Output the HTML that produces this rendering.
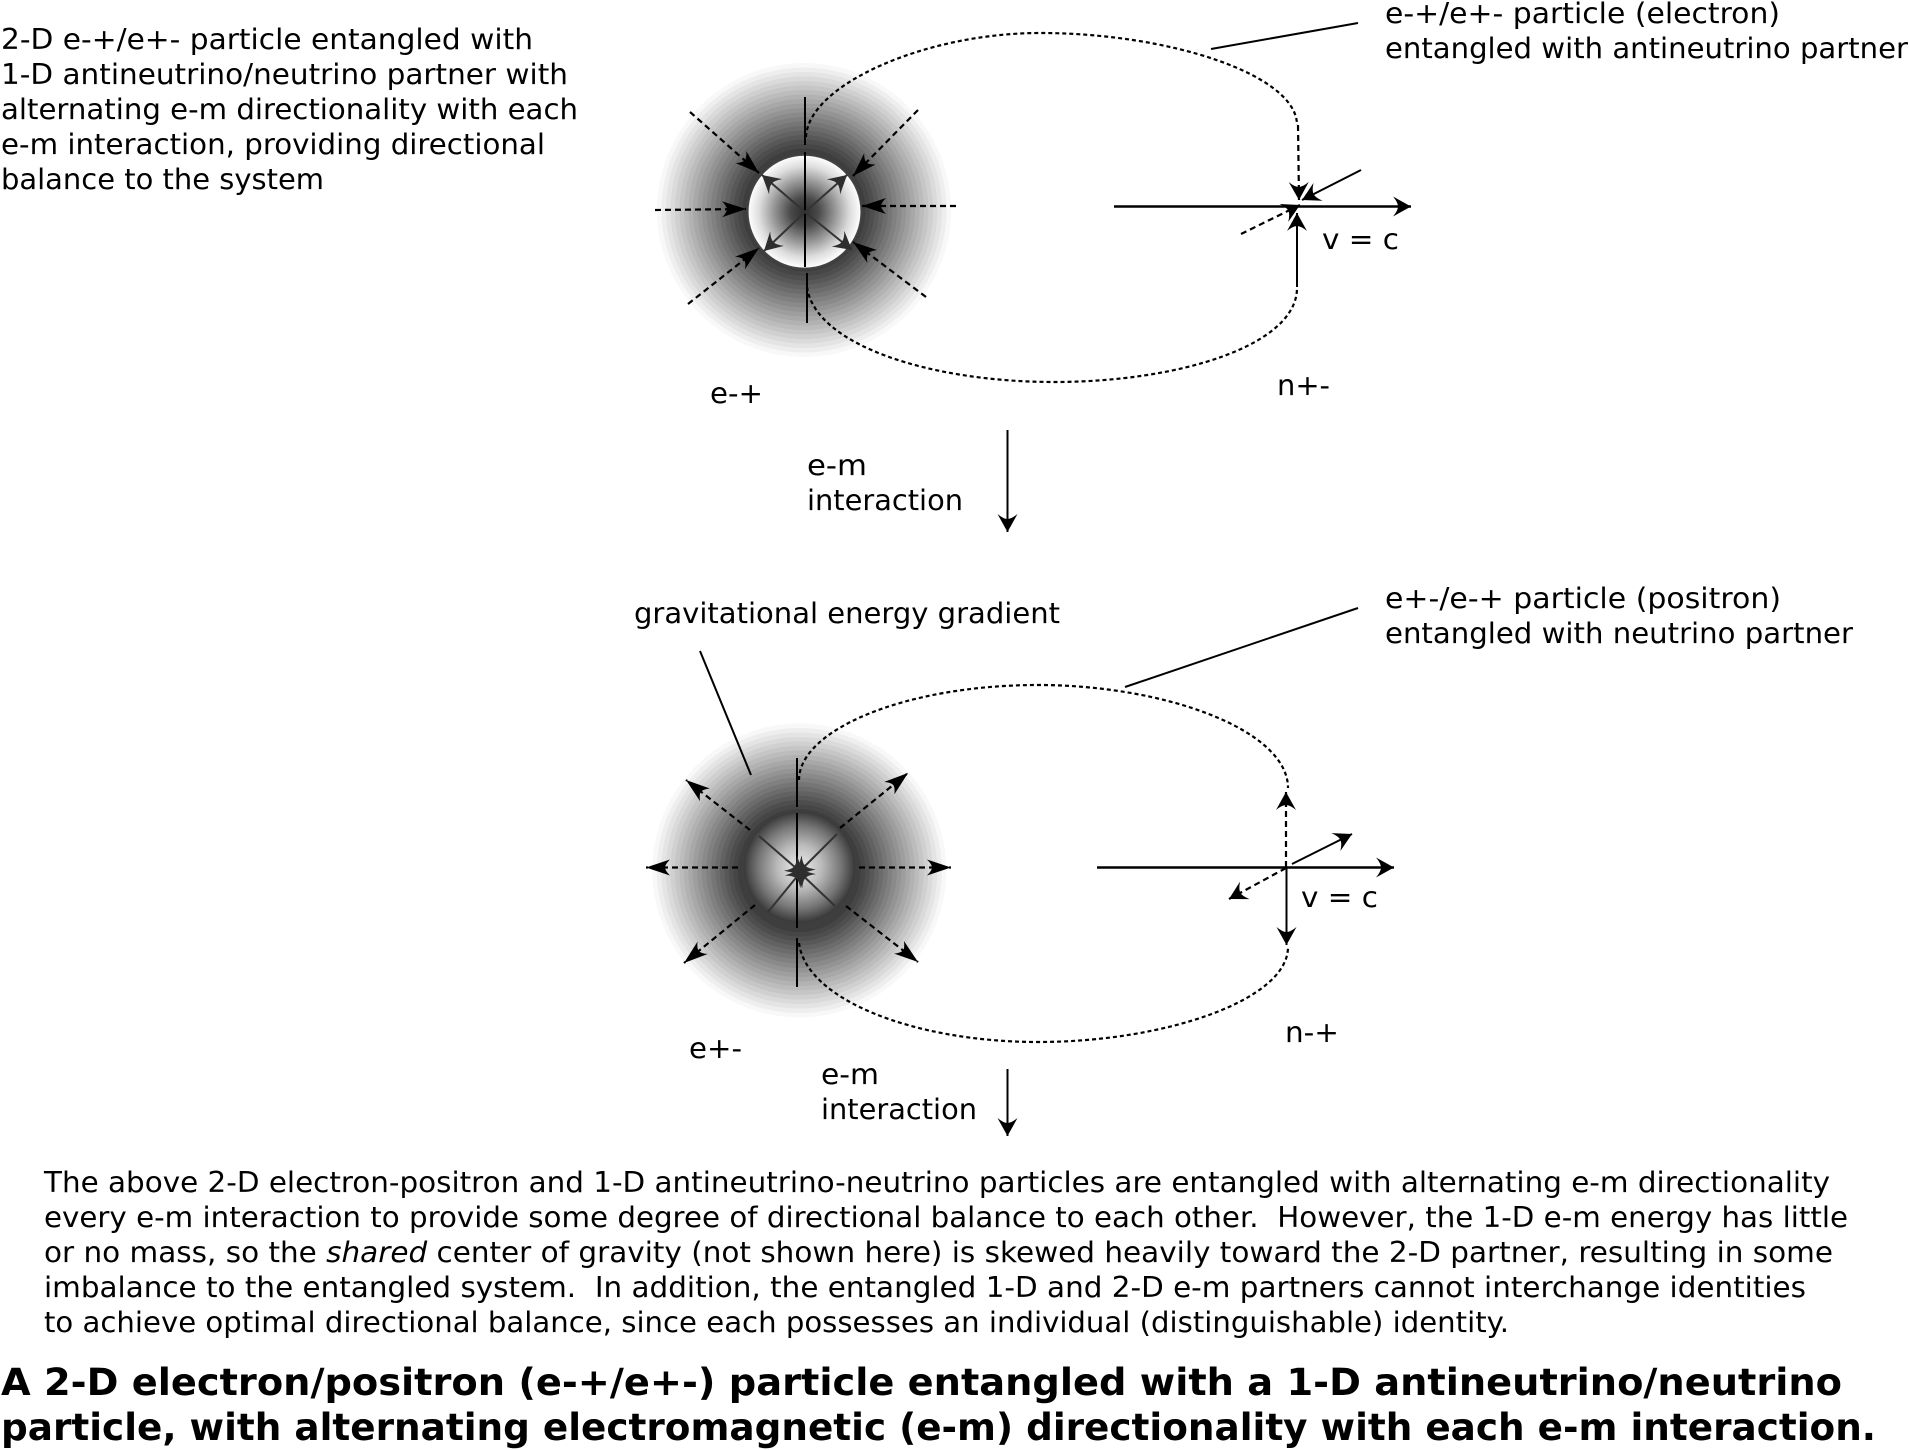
<!DOCTYPE html>
<html>
<head>
<meta charset="utf-8">
<style>
html,body{margin:0;padding:0;background:#fff}
svg{display:block}
text{font-family:"DejaVu Sans","Liberation Sans",sans-serif;font-size:28.5px;fill:#000}
.b{font-weight:bold;font-size:37px}
.s{stroke:#000;stroke-width:2;fill:none}
.h{stroke:#000;stroke-width:2.5;fill:none}
.d{stroke:#000;stroke-width:2.2;stroke-dasharray:6 4;fill:none}
.c{stroke:#000;stroke-width:2.2;stroke-dasharray:4 3;fill:none}
.g{stroke:#333;stroke-width:2;fill:none}
</style>
</head>
<body>
<svg width="1909" height="1450" viewBox="0 0 1909 1450" xmlns="http://www.w3.org/2000/svg">
<defs>
<marker id="a" viewBox="-20 -12 22 24" refX="0" refY="0" markerWidth="22" markerHeight="24" markerUnits="userSpaceOnUse" orient="auto">
<path d="M0,0 L-18,-10 Q-13,-4 -13,0 Q-13,4 -18,10Z" fill="#000"/>
</marker>
<marker id="l" viewBox="-26 -10 28 20" refX="0" refY="0" markerWidth="28" markerHeight="20" markerUnits="userSpaceOnUse" orient="auto">
<path d="M0,0 L-24,-8 Q-19,-3 -19,0 Q-19,3 -24,8Z" fill="#000"/>
</marker>
<marker id="m" viewBox="-20 -12 22 24" refX="0" refY="0" markerWidth="22" markerHeight="24" markerUnits="userSpaceOnUse" orient="auto">
<path d="M0,0 L-18,-10 Q-13,-4 -13,0 Q-13,4 -18,10Z" fill="#2e2e2e"/>
</marker>
<g id="disc">
<circle r="147" fill="#f8f8f8"/><circle r="142.5" fill="#eee"/><circle r="138" fill="#e4e4e4"/><circle r="133.5" fill="#dadada"/>
<circle r="129" fill="#d0d0d0"/><circle r="124.5" fill="#c6c6c6"/><circle r="120" fill="#bcbcbc"/><circle r="115.5" fill="#b2b2b2"/>
<circle r="111" fill="#a8a8a8"/><circle r="106.5" fill="#9e9e9e"/><circle r="102" fill="#949494"/><circle r="97.5" fill="#8a8a8a"/>
<circle r="93" fill="#808080"/><circle r="88.5" fill="#767676"/><circle r="84" fill="#6c6c6c"/><circle r="79.5" fill="#626262"/>
<circle r="75" fill="#585858"/><circle r="70.5" fill="#4e4e4e"/><circle r="66" fill="#464646"/><circle r="61.5" fill="#3e3e3e"/>
</g>
<radialGradient id="i1"><stop offset="0" stop-color="#2d2d2d"/><stop offset=".25" stop-color="#4a4a4a"/><stop offset=".55" stop-color="#999"/><stop offset=".8" stop-color="#ddd"/><stop offset="1" stop-color="#fff"/></radialGradient>
<radialGradient id="i2"><stop offset="0" stop-color="#eee"/><stop offset=".4" stop-color="#bbb"/><stop offset=".75" stop-color="#777"/><stop offset="1" stop-color="#3c3c3c"/></radialGradient>
</defs>

<!-- top figure -->
<use href="#disc" x="804" y="210"/>
<circle cx="804.5" cy="211.7" r="56.7" fill="url(#i1)" stroke="#444" stroke-width="1.5"/>
<path class="c" d="M806,137 C808,85 925,33 1040,33 C1170,33 1297,75 1297,125"/>
<path class="c" d="M807,287 C815,345 930,382 1054,382 C1180,382 1297,345 1297,288"/>
<line class="s" x1="805" y1="97" x2="805" y2="145"/>
<line class="s" x1="805" y1="152" x2="805" y2="267"/>
<line class="s" x1="807" y1="273" x2="807" y2="323"/>
<line class="g" x1="805" y1="212" x2="762" y2="175" marker-end="url(#m)"/>
<line class="g" x1="805" y1="212" x2="847" y2="175" marker-end="url(#m)"/>
<line class="g" x1="805" y1="212" x2="764" y2="251" marker-end="url(#m)"/>
<line class="g" x1="805" y1="212" x2="852" y2="250" marker-end="url(#m)"/>
<line class="d" x1="690" y1="112" x2="759" y2="173" marker-end="url(#l)"/>
<line class="d" x1="918" y1="110" x2="853" y2="176" marker-end="url(#l)"/>
<line class="d" x1="655" y1="210" x2="746" y2="209" marker-end="url(#l)"/>
<line class="d" x1="956" y1="206" x2="862" y2="206" marker-end="url(#l)"/>
<line class="d" x1="688" y1="304" x2="759" y2="248" marker-end="url(#l)"/>
<line class="d" x1="926" y1="297" x2="853" y2="242" marker-end="url(#l)"/>
<line class="h" x1="1114" y1="206.5" x2="1411" y2="206.5" marker-end="url(#a)"/>
<line class="d" x1="1298" y1="125" x2="1299" y2="200" marker-end="url(#a)"/>
<line class="s" x1="1361" y1="170" x2="1302" y2="200" marker-end="url(#a)"/>
<line class="d" x1="1241" y1="234" x2="1300" y2="205" marker-end="url(#a)"/>
<line class="s" x1="1297" y1="287" x2="1297" y2="213" marker-end="url(#a)"/>
<line class="s" x1="1211" y1="49" x2="1358" y2="23"/>

<!-- middle arrow -->
<line class="s" x1="1007.5" y1="430" x2="1007.5" y2="532" marker-end="url(#a)"/>

<!-- bottom figure -->
<use href="#disc" x="799.3" y="870.5"/>
<circle cx="799.5" cy="867" r="55" fill="url(#i2)" stroke="#3c3c3c" stroke-width="1.5"/>
<path class="c" d="M799,780 C799,730 905,685 1038,685 C1165,685 1288,730 1288,788"/>
<path class="c" d="M799,943 C806,1000 915,1042 1038,1042 C1165,1042 1288,1000 1288,947"/>
<line class="s" x1="797" y1="758" x2="797" y2="807"/>
<line class="s" x1="797" y1="813" x2="797" y2="928"/>
<line class="s" x1="797" y1="938" x2="797" y2="987"/>
<line class="g" x1="759" y1="836" x2="804" y2="875" marker-end="url(#m)"/>
<line class="g" x1="837" y1="834" x2="796" y2="875" marker-end="url(#m)"/>
<line class="g" x1="768" y1="912" x2="804" y2="868" marker-end="url(#m)"/>
<line class="g" x1="835" y1="906" x2="796" y2="869" marker-end="url(#m)"/>
<line class="d" x1="738" y1="867.5" x2="646" y2="867.5" marker-end="url(#l)"/>
<line class="d" x1="859" y1="867.5" x2="951" y2="867.5" marker-end="url(#l)"/>
<line class="d" x1="750" y1="830" x2="686" y2="780" marker-end="url(#l)"/>
<line class="d" x1="840" y1="828" x2="908" y2="773" marker-end="url(#l)"/>
<line class="d" x1="755" y1="905" x2="684" y2="963" marker-end="url(#l)"/>
<line class="d" x1="846" y1="906" x2="918" y2="962" marker-end="url(#l)"/>
<line class="h" x1="1097" y1="867.5" x2="1394" y2="867.5" marker-end="url(#a)"/>
<line class="d" x1="1286" y1="867" x2="1286" y2="792" marker-end="url(#a)"/>
<line class="s" x1="1286.5" y1="867" x2="1286.5" y2="945" marker-end="url(#a)"/>
<line class="s" x1="1292" y1="864" x2="1352" y2="834" marker-end="url(#a)"/>
<line class="d" x1="1286" y1="868" x2="1229" y2="899" marker-end="url(#a)"/>
<line class="s" x1="700" y1="651" x2="751" y2="775"/>
<line class="s" x1="1358" y1="608" x2="1125" y2="687"/>

<!-- lower arrow -->
<line class="s" x1="1007.5" y1="1069" x2="1007.5" y2="1136" marker-end="url(#a)"/>

<!-- labels -->
<text x="1" y="49" textLength="532" lengthAdjust="spacingAndGlyphs">2-D e-+/e+- particle entangled with</text>
<text x="1" y="84" textLength="567" lengthAdjust="spacingAndGlyphs">1-D antineutrino/neutrino partner with</text>
<text x="1" y="119" textLength="577" lengthAdjust="spacingAndGlyphs">alternating e-m directionality with each</text>
<text x="1" y="154" textLength="544" lengthAdjust="spacingAndGlyphs">e-m interaction, providing directional</text>
<text x="1" y="189" textLength="323" lengthAdjust="spacingAndGlyphs">balance to the system</text>

<text x="1385" y="23" textLength="395" lengthAdjust="spacingAndGlyphs">e-+/e+- particle (electron)</text>
<text x="1385" y="58" textLength="523" lengthAdjust="spacingAndGlyphs">entangled with antineutrino partner</text>

<text x="1322" y="249" textLength="77" lengthAdjust="spacingAndGlyphs">v = c</text>
<text x="710" y="403" textLength="53" lengthAdjust="spacingAndGlyphs">e-+</text>
<text x="1277" y="395" textLength="53" lengthAdjust="spacingAndGlyphs">n+-</text>
<text x="807" y="475" textLength="60" lengthAdjust="spacingAndGlyphs">e-m</text>
<text x="807" y="510" textLength="156" lengthAdjust="spacingAndGlyphs">interaction</text>
<text x="634" y="623" textLength="426" lengthAdjust="spacingAndGlyphs">gravitational energy gradient</text>
<text x="1385" y="608" textLength="396" lengthAdjust="spacingAndGlyphs">e+-/e-+ particle (positron)</text>
<text x="1385" y="643" textLength="468" lengthAdjust="spacingAndGlyphs">entangled with neutrino partner</text>
<text x="1301" y="907" textLength="77" lengthAdjust="spacingAndGlyphs">v = c</text>
<text x="689" y="1058" textLength="53" lengthAdjust="spacingAndGlyphs">e+-</text>
<text x="1285" y="1042" textLength="54" lengthAdjust="spacingAndGlyphs">n-+</text>
<text x="821" y="1084" textLength="58" lengthAdjust="spacingAndGlyphs">e-m</text>
<text x="821" y="1119" textLength="156" lengthAdjust="spacingAndGlyphs">interaction</text>

<text x="44" y="1192" textLength="1786" lengthAdjust="spacingAndGlyphs">The above 2-D electron-positron and 1-D antineutrino-neutrino particles are entangled with alternating e-m directionality</text>
<text x="44" y="1227" textLength="1804" lengthAdjust="spacingAndGlyphs">every e-m interaction to provide some degree of directional balance to each other.&#160; However, the 1-D e-m energy has little</text>
<text x="44" y="1262" textLength="1789" lengthAdjust="spacingAndGlyphs">or no mass, so the <tspan font-style="italic">shared</tspan> center of gravity (not shown here) is skewed heavily toward the 2-D partner, resulting in some</text>
<text x="44" y="1297" textLength="1762" lengthAdjust="spacingAndGlyphs">imbalance to the entangled system.&#160; In addition, the entangled 1-D and 2-D e-m partners cannot interchange identities</text>
<text x="44" y="1332" textLength="1465" lengthAdjust="spacingAndGlyphs">to achieve optimal directional balance, since each possesses an individual (distinguishable) identity.</text>

<text class="b" x="1" y="1395" textLength="1841" lengthAdjust="spacingAndGlyphs">A 2-D electron/positron (e-+/e+-) particle entangled with a 1-D antineutrino/neutrino</text>
<text class="b" x="1" y="1440" textLength="1875" lengthAdjust="spacingAndGlyphs">particle, with alternating electromagnetic (e-m) directionality with each e-m interaction.</text>
</svg>
</body>
</html>
